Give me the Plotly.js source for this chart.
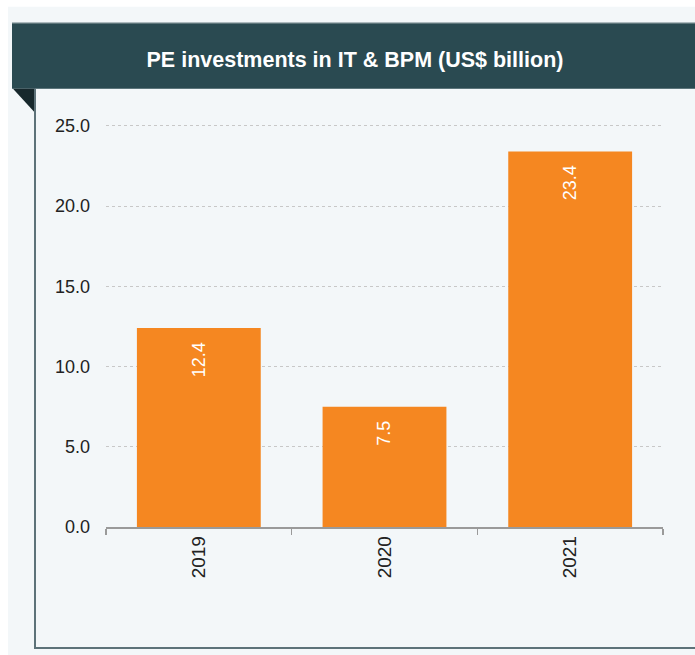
<!DOCTYPE html>
<html>
<head>
<meta charset="utf-8">
<script src="https://cdn.plot.ly/plotly-3.0.1.min.js"></script>
<style>
  html, body { margin: 0; padding: 0; background: #ffffff; }
  #chart { width: 695px; height: 655px; }
</style>
</head>
<body>
<div id="chart"></div>
<script>
// ---- data ----
const years = ['2019', '2020', '2021'];
const investments = [12.4, 7.5, 23.4];
const yTicks = [0, 5, 10, 15, 20, 25];
const yTickLabels = ['0.0', '5.0', '10.0', '15.0', '20.0', '25.0'];
const chartTitle = 'PE investments in IT &amp; BPM (US$ billion)';

// ---- layout geometry (pixels) ----
const W = 695, H = 655;
const Y_MAX = 25.3;
const PX_PER_UNIT = 16.04;
const BOTTOM = 128;
const M = { l: 106, r: 32, t: H - BOTTOM - Y_MAX * PX_PER_UNIT, b: BOTTOM };
const plotW = W - M.l - M.r, plotH = H - M.t - M.b;
const px = x => (x - M.l) / plotW;          // pixel -> paper x
const py = y => (H - M.b - y) / plotH;      // pixel -> paper y

const FONT = 'Liberation Sans, Arial, sans-serif';
const ORANGE = '#f58721';

const trace = {
  type: 'bar',
  x: years,
  y: investments,
  marker: { color: ORANGE, line: { width: 0 } },
  hoverinfo: 'x+y'
};

const annotations = years.map((yr, i) => ({
  x: i, y: investments[i], xref: 'x', yref: 'y',
  text: investments[i].toFixed(1),
  showarrow: false, textangle: -90,
  xanchor: 'center', yanchor: 'top', yshift: -12,
  font: { family: FONT, size: 18, color: '#ffffff' }
}));

const shapes = [
  // panel background
  { type: 'rect', xref: 'paper', yref: 'paper', layer: 'below',
    x0: px(8), x1: px(695), y0: py(7), y1: py(655),
    fillcolor: '#f3f7f9', line: { width: 0 } },
  // header bar
  { type: 'rect', xref: 'paper', yref: 'paper', layer: 'below',
    x0: px(12), x1: px(695), y0: py(23), y1: py(89),
    fillcolor: '#2a4a51', line: { width: 0 } },
  // header top edge
  { type: 'line', xref: 'paper', yref: 'paper', layer: 'below',
    x0: px(12), x1: px(695), y0: py(23.5), y1: py(23.5),
    line: { color: '#6f8489', width: 1 } },
  // folded corner triangle
  { type: 'path', xref: 'paper', yref: 'paper', layer: 'below',
    path: `M ${px(13)} ${py(89)} L ${px(35)} ${py(89)} L ${px(35)} ${py(113)} Z`,
    fillcolor: '#17282c', line: { width: 0 } },
  // left border
  { type: 'line', xref: 'paper', yref: 'paper', layer: 'below',
    x0: px(35), x1: px(35), y0: py(89), y1: py(648),
    line: { color: '#5d7279', width: 2 } },
  // bottom border
  { type: 'line', xref: 'paper', yref: 'paper', layer: 'below',
    x0: px(34), x1: px(695), y0: py(648), y1: py(648),
    line: { color: '#5d7279', width: 2 } }
];

const layout = {
  width: W, height: H,
  margin: M,
  paper_bgcolor: '#ffffff',
  plot_bgcolor: 'rgba(0,0,0,0)',
  showlegend: false,
  bargap: 0.333,
  font: { family: FONT, color: '#222222' },
  title: {
    text: '<b>' + chartTitle + '</b>',
    font: { family: FONT, size: 21.5, color: '#ffffff' },
    xref: 'container', yref: 'container',
    x: 355 / W, y: 1 - 59 / H,
    xanchor: 'center', yanchor: 'middle'
  },
  xaxis: {
    type: 'category',
    range: [-0.5, 2.5],
    showline: true, linecolor: '#9a9a9a', linewidth: 1.5,
    ticks: 'outside', tickson: 'boundaries', ticklen: 6,
    tickcolor: '#9a9a9a', tickwidth: 1.5,
    tickangle: -90,
    tickfont: { family: FONT, size: 19, color: '#222222' },
    showgrid: false, zeroline: false, fixedrange: true
  },
  yaxis: {
    range: [0, Y_MAX],
    tickvals: yTicks, ticktext: yTickLabels,
    tickfont: { family: FONT, size: 18, color: '#222222' },
    ticks: '', ticklabelstandoff: 15,
    showline: false, zeroline: false,
    showgrid: true, gridcolor: '#c8c8c8', gridwidth: 1, griddash: 'dot',
    fixedrange: true
  },
  shapes: shapes,
  annotations: annotations
};

Plotly.newPlot('chart', [trace], layout, { displayModeBar: false, staticPlot: true });
</script>
</body>
</html>
